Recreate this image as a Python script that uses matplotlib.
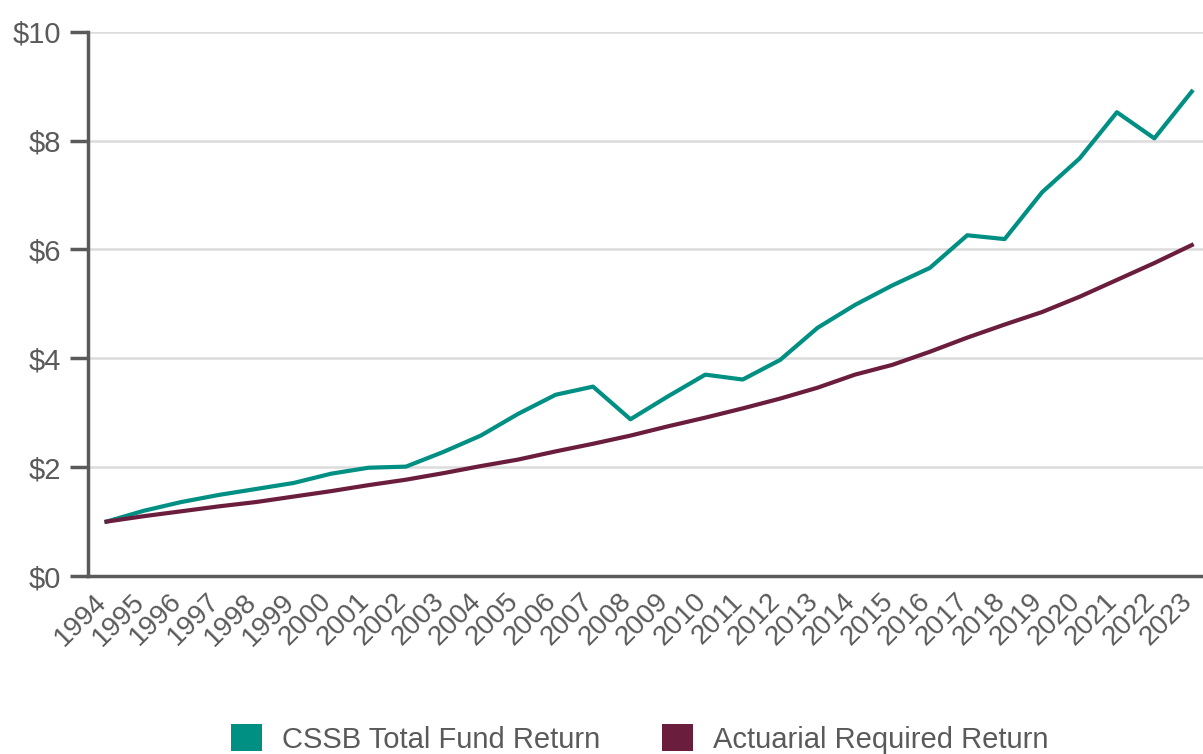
import matplotlib.pyplot as plt
import matplotlib.transforms as mtransforms
from matplotlib.patches import Patch

years = list(range(1994, 2024))

# Growth of $1 invested in 1994
cssb = [1.00, 1.20, 1.36, 1.49, 1.60, 1.71, 1.88, 1.99, 2.01, 2.28, 2.58,
        2.98, 3.33, 3.48, 2.88, 3.30, 3.70, 3.61, 3.97, 4.56, 4.98,
        5.34, 5.66, 6.26, 6.19, 7.05, 7.67, 8.52, 8.04, 8.90]
actuarial = [1.00, 1.10, 1.19, 1.28, 1.36, 1.46, 1.56, 1.67, 1.77, 1.89, 2.02,
             2.14, 2.29, 2.43, 2.58, 2.75, 2.91, 3.08, 3.26, 3.46, 3.70,
             3.88, 4.12, 4.38, 4.62, 4.85, 5.13, 5.44, 5.75, 6.08]

y_ticks = [0, 2, 4, 6, 8, 10]
y_labels = ['$0', '$2', '$4', '$6', '$8', '$10']

teal = '#008f83'
maroon = '#6b1d3d'
grey = '#5a5a5a'

plt.rcParams['font.family'] = ['Liberation Sans', 'DejaVu Sans']

fig = plt.figure(figsize=(12.03, 7.54), dpi=100)
ax = fig.add_axes([0.073, 0.236, 0.927, 0.722])

ax.plot(years, cssb, color=teal, lw=3, zorder=3)
ax.plot(years, actuarial, color=maroon, lw=3, zorder=3)

ax.set_ylim(0, 10)
ax.set_xlim(1993.5, 2023.3)
ax.set_yticks(y_ticks)
ax.set_yticklabels(y_labels)
ax.set_xticks(years)
ax.set_xticklabels([str(y) for y in years], rotation=45, ha='right',
                   va='top', rotation_mode='anchor')

ax.grid(axis='y', color='#dcdcdc', lw=1.8, zorder=0)
ax.set_axisbelow(True)

for s in ['top', 'right']:
    ax.spines[s].set_visible(False)
for s in ['left', 'bottom']:
    ax.spines[s].set_color(grey)
    ax.spines[s].set_linewidth(2.5)

ax.tick_params(axis='y', length=13, width=2.5, color=grey, pad=6,
               labelsize=21, labelcolor=grey)
ax.tick_params(axis='x', length=0, pad=9, labelsize=20, labelcolor=grey)

# nudge rotated year labels left so the last one stays inside the figure
shift = mtransforms.ScaledTranslation(-9 / 72, 0, fig.dpi_scale_trans)
for lab in ax.get_xticklabels():
    lab.set_transform(lab.get_transform() + shift)

handles = [Patch(facecolor=teal, label='CSSB Total Fund Return'),
           Patch(facecolor=maroon, label='Actuarial Required Return')]
fig.legend(handles=handles, loc='center', bbox_to_anchor=(0.532, 0.02),
           ncol=2, frameon=False, handlelength=1.05, handleheight=1.05,
           handletextpad=0.7, columnspacing=2.1,
           prop={'size': 21}, labelcolor=grey)

fig.savefig('out.png', dpi=100)
